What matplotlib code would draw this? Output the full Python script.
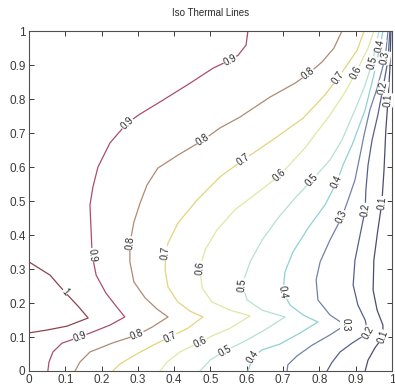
"""Iso thermal lines of the cavity temperature field, traced contour by contour."""

import numpy as np
import matplotlib as mpl
mpl.use('Agg')
import matplotlib.pyplot as plt

mpl.rcParams['font.family'] = ['Liberation Sans Narrow', 'Liberation Sans', 'DejaVu Sans']

# contour levels and the traced (x, y) vertices of each isotherm
levels = [1.0, 0.9, 0.8, 0.7, 0.6, 0.5, 0.4, 0.3, 0.2, 0.1]

x_10 = [0.0, 0.058, 0.099, 0.135, 0.163, 0.105, 0.052, 0.0]
y_10 = [0.321, 0.282, 0.232, 0.191, 0.156, 0.132, 0.121, 0.112]

x_09 = [0.603, 0.598, 0.576, 0.554, 0.507, 0.444, 0.369, 0.306, 0.270, 0.223, 0.190, 0.176, 0.168,
        0.171, 0.174, 0.185, 0.212, 0.242, 0.264, 0.223, 0.176, 0.140, 0.091, 0.066, 0.055, 0.052]
y_09 = [1.0, 0.959, 0.929, 0.915, 0.891, 0.847, 0.797, 0.756, 0.729, 0.671, 0.600, 0.541, 0.488,
        0.415, 0.341, 0.282, 0.229, 0.188, 0.159, 0.135, 0.115, 0.100, 0.082, 0.056, 0.026, 0.0]

x_08 = [0.862, 0.840, 0.807, 0.769, 0.733, 0.664, 0.581, 0.526, 0.479, 0.410, 0.355, 0.325, 0.306,
        0.289, 0.278, 0.278, 0.289, 0.320, 0.353, 0.383, 0.339, 0.298, 0.229, 0.168, 0.140, 0.127]
y_08 = [1.0, 0.950, 0.909, 0.874, 0.847, 0.806, 0.747, 0.715, 0.679, 0.635, 0.597, 0.547, 0.494,
        0.438, 0.376, 0.321, 0.262, 0.215, 0.182, 0.159, 0.129, 0.106, 0.082, 0.056, 0.026, 0.0]

x_07 = [0.923, 0.904, 0.876, 0.851, 0.815, 0.755, 0.678, 0.590, 0.526, 0.463, 0.410, 0.383, 0.377,
        0.375, 0.383, 0.410, 0.444, 0.479, 0.438, 0.388, 0.342, 0.292, 0.251, 0.231]
y_07 = [1.0, 0.944, 0.900, 0.862, 0.812, 0.744, 0.685, 0.621, 0.571, 0.503, 0.435, 0.376, 0.347,
        0.297, 0.247, 0.203, 0.176, 0.159, 0.126, 0.100, 0.076, 0.047, 0.021, 0.0]

x_06 = [0.950, 0.934, 0.901, 0.871, 0.829, 0.760, 0.691, 0.631, 0.567, 0.518, 0.485, 0.471, 0.477,
        0.504, 0.554, 0.609, 0.554, 0.504, 0.471, 0.416, 0.380, 0.361]
y_06 = [1.0, 0.950, 0.879, 0.821, 0.753, 0.656, 0.576, 0.526, 0.474, 0.415, 0.356, 0.303, 0.244,
        0.203, 0.179, 0.162, 0.126, 0.103, 0.085, 0.056, 0.026, 0.0]

x_05 = [0.964, 0.956, 0.945, 0.926, 0.898, 0.862, 0.829, 0.780, 0.733, 0.686, 0.642, 0.609, 0.587,
        0.601, 0.642, 0.705, 0.650, 0.595, 0.540, 0.499, 0.471]
y_05 = [1.0, 0.959, 0.906, 0.841, 0.768, 0.679, 0.621, 0.562, 0.509, 0.450, 0.385, 0.321, 0.253,
        0.209, 0.179, 0.159, 0.121, 0.088, 0.059, 0.032, 0.0]

x_04 = [0.975, 0.967, 0.950, 0.926, 0.890, 0.865, 0.848, 0.815, 0.769, 0.727, 0.705, 0.700, 0.719,
        0.755, 0.796, 0.747, 0.691, 0.642, 0.617, 0.603]
y_04 = [1.0, 0.956, 0.871, 0.768, 0.665, 0.606, 0.556, 0.488, 0.421, 0.350, 0.291, 0.232, 0.194,
        0.165, 0.144, 0.112, 0.079, 0.062, 0.041, 0.0]

x_03 = [0.989, 0.981, 0.959, 0.939, 0.923, 0.912, 0.898, 0.879, 0.862, 0.829, 0.802, 0.791, 0.796,
        0.829, 0.871, 0.829, 0.780, 0.738, 0.713, 0.711]
y_03 = [1.0, 0.921, 0.832, 0.768, 0.694, 0.635, 0.562, 0.503, 0.453, 0.385, 0.321, 0.268, 0.209,
        0.165, 0.135, 0.106, 0.076, 0.044, 0.018, 0.0]

x_02 = [0.994, 0.989, 0.975, 0.961, 0.945, 0.934, 0.928, 0.926, 0.912, 0.898, 0.893, 0.906, 0.926,
        0.934, 0.890, 0.857, 0.835, 0.821]
y_02 = [1.0, 0.915, 0.832, 0.753, 0.679, 0.606, 0.532, 0.474, 0.400, 0.326, 0.253, 0.194, 0.150,
        0.112, 0.082, 0.056, 0.026, 0.0]

x_01 = [0.997, 0.994, 0.989, 0.983, 0.978, 0.972, 0.961, 0.950, 0.948, 0.959, 0.975, 0.975, 0.953,
        0.934, 0.926]
y_01 = [1.0, 0.885, 0.797, 0.709, 0.591, 0.494, 0.415, 0.326, 0.238, 0.179, 0.135, 0.100, 0.068,
        0.032, 0.0]

# which vertices of each isotherm carry its in-line value label
labels_10 = [2]
labels_09 = [3, 8, 14, 21]
labels_08 = [3, 8, 14, 21]
labels_07 = [3, 7, 12, 19]
labels_06 = [2, 6, 11, 18]
labels_05 = [2, 7, 12, 18]
labels_04 = [1, 6, 11, 18]
labels_03 = [1, 8, 14]
labels_02 = [2, 7, 13]
labels_01 = [2, 5, 11]

# faded jet-like line colours, hot (1.0) to cold (0.1)
line_colors = ['#8c4450', '#aa4e6a', '#b08a72', '#e4d47a', '#dfe8a4',
               '#b4e2cc', '#8fd0d6', '#6f82a8', '#56608a', '#4a4c72']

xs = [x_10, x_09, x_08, x_07, x_06, x_05, x_04, x_03, x_02, x_01]
ys = [y_10, y_09, y_08, y_07, y_06, y_05, y_04, y_03, y_02, y_01]
label_ids = [labels_10, labels_09, labels_08, labels_07, labels_06,
             labels_05, labels_04, labels_03, labels_02, labels_01]

xticks = np.round(np.arange(0, 1.01, 0.1), 1)
yticks = np.round(np.arange(0, 1.01, 0.1), 1)
ticklabels = ['0', '0.1', '0.2', '0.3', '0.4', '0.5', '0.6', '0.7', '0.8', '0.9', '1']


def fmt(v):
    return '1' if v == 1.0 else '%.1f' % v


def main():
    fig = plt.figure(figsize=(3.95, 3.92), dpi=100)
    ax = fig.add_axes([0.0734, 0.0536, 0.919, 0.867])
    ax.set_xlim(0, 1)
    ax.set_ylim(0, 1)

    for lev, x, y, ids, c in zip(levels, xs, ys, label_ids, line_colors):
        ax.plot(x, y, color=c, lw=0.9, solid_joinstyle='round', zorder=2)
        pts = ax.transData.transform(np.column_stack([x, y]))
        for i in ids:
            a = pts[max(i - 1, 0)]
            b = pts[min(i + 1, len(x) - 1)]
            ang = np.degrees(np.arctan2(b[1] - a[1], b[0] - a[0]))
            if ang > 90:
                ang -= 180
            elif ang < -90:
                ang += 180
            ax.text(x[i], y[i], fmt(lev), rotation=ang, rotation_mode='anchor',
                    ha='center', va='center', fontsize=7, color='#2a2a2a',
                    bbox=dict(facecolor='white', edgecolor='none', pad=0.3),
                    zorder=3)

    ax.set_xticks(xticks)
    ax.set_xticklabels(ticklabels)
    ax.set_yticks(yticks)
    ax.set_yticklabels(ticklabels)
    ax.tick_params(direction='in', length=3.5, width=0.7, colors='#3a3a3a',
                   labelsize=8.5, top=True, right=True, pad=2.5)
    for s in ax.spines.values():
        s.set_linewidth(0.8)
        s.set_color('#505050')

    ax.set_title('Iso Thermal Lines', fontsize=7, pad=11, color='#2a2a2a')
    fig.savefig('out.png', dpi=100)


if __name__ == '__main__':
    main()
